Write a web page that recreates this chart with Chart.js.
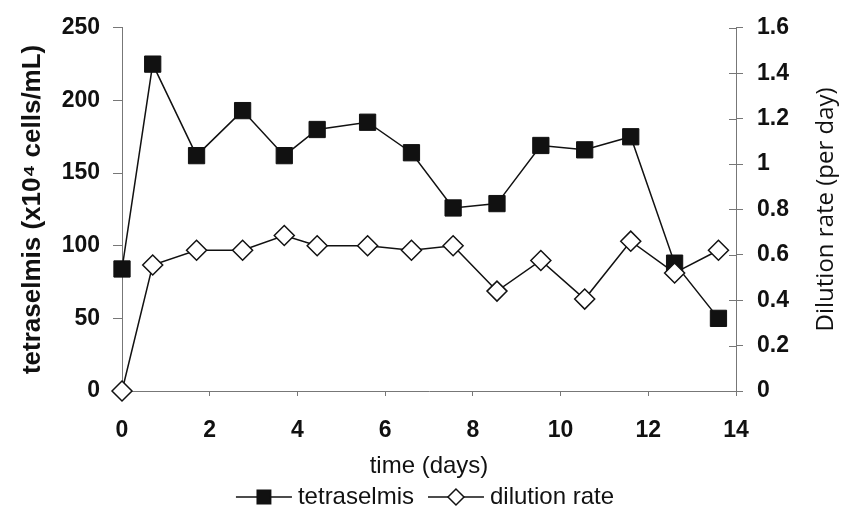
<!DOCTYPE html>
<html>
<head>
<meta charset="utf-8">
<script src="https://cdn.jsdelivr.net/npm/chart.js@4.4.0/dist/chart.umd.min.js"></script>
<style>
  html, body { margin: 0; padding: 0; background: #fff; }
  #wrap { width: 855px; height: 521px; position: relative; }
</style>
</head>
<body>
<div id="wrap"><canvas id="chart"></canvas></div>
<script>
// values
const days = [0, 0.7, 1.7, 2.75, 3.7, 4.45, 5.6, 6.6, 7.55, 8.55, 9.55, 10.55, 11.6, 12.6, 13.6];
const tetraselmis = [84, 225, 162, 193, 162, 180, 185, 164, 126, 129, 169, 166, 175, 88, 50];
const dilutionRate = [0, 0.555, 0.62, 0.62, 0.685, 0.64, 0.64, 0.62, 0.64, 0.44, 0.575, 0.405, 0.66, 0.52, 0.62];

const xTicks = [0, 2, 4, 6, 8, 10, 12, 14];
const leftTicks = [0, 50, 100, 150, 200, 250];
const rightTicks = [0, 0.2, 0.4, 0.6, 0.8, 1, 1.2, 1.4, 1.6];

const ink = '#111';
const axisGray = '#777';
const tickFont = { family: 'Liberation Sans', size: 23, weight: 'bold' };

const pairs = (ys) => days.map((d, i) => ({ x: d, y: ys[i] }));
const setTicks = (list) => (scale) => { scale.ticks = list.map(v => ({ value: v })); };

// right axis title reads bottom-to-top, right ticks cross the axis,
// and the legend has line-through markers
const extras = {
  id: 'extras',
  afterDraw(chart) {
    const ctx = chart.ctx;
    const area = chart.chartArea;
    const y2 = chart.scales.y2;

    ctx.save();
    ctx.strokeStyle = axisGray;
    ctx.lineWidth = 1;
    y2.ticks.forEach(t => {
      const py = Math.round(y2.getPixelForValue(t.value)) + 0.5;
      ctx.beginPath();
      ctx.moveTo(area.right - 7, py);
      ctx.lineTo(area.right, py);
      ctx.stroke();
    });
    ctx.restore();

    ctx.save();
    ctx.fillStyle = ink;
    ctx.font = '24px "Open Sans"';
    ctx.textAlign = 'center';
    ctx.textBaseline = 'middle';
    ctx.translate(826, (area.top + area.bottom) / 2);
    ctx.rotate(-Math.PI / 2);
    ctx.fillText('Dilution rate (per day)', 0, 0);
    ctx.restore();

    ctx.save();
    ctx.font = '24px "Liberation Sans"';
    ctx.textBaseline = 'middle';
    const y = 497;
    const lineLen = 56, gap = 6, itemGap = 14;
    const items = chart.data.datasets.slice().sort((a, b) => b.order - a.order);
    let total = 0;
    items.forEach((ds, i) => {
      total += lineLen + gap + ctx.measureText(ds.label).width + (i ? itemGap : 0);
    });
    let x = 425 - total / 2;
    items.forEach((ds, i) => {
      if (i) x += itemGap;
      ctx.strokeStyle = ink;
      ctx.lineWidth = 1.5;
      ctx.beginPath();
      ctx.moveTo(x, y);
      ctx.lineTo(x + lineLen, y);
      ctx.stroke();
      ctx.fillStyle = ds.pointBackgroundColor;
      ctx.strokeStyle = ink;
      Chart.helpers.drawPoint(ctx, {
        pointStyle: ds.pointStyle,
        radius: ds.pointStyle === 'rect' ? 9.5 : 8,
        borderWidth: 1.5
      }, x + lineLen / 2, y);
      x += lineLen + gap;
      ctx.fillStyle = ink;
      ctx.fillText(ds.label, x, y);
      x += ctx.measureText(ds.label).width;
    });
    ctx.restore();
  }
};

new Chart(document.getElementById('chart'), {
  type: 'line',
  data: {
    datasets: [{
      label: 'tetraselmis',
      data: pairs(tetraselmis),
      yAxisID: 'y',
      order: 1,
      borderColor: ink,
      borderWidth: 1.5,
      pointStyle: 'rect',
      pointRadius: 11.5,
      pointBackgroundColor: ink,
      pointBorderColor: ink,
      pointBorderWidth: 1,
      clip: false,
      tension: 0
    }, {
      label: 'dilution rate',
      data: pairs(dilutionRate),
      yAxisID: 'y2',
      order: 0,
      borderColor: ink,
      borderWidth: 1.5,
      pointStyle: 'rectRot',
      pointRadius: 10,
      pointBackgroundColor: '#fff',
      pointBorderColor: ink,
      pointBorderWidth: 1.5,
      clip: false,
      tension: 0
    }]
  },
  options: {
    animation: false,
    responsive: true,
    maintainAspectRatio: false,
    layout: { padding: { top: 23, bottom: 40, left: 0, right: 0 } },
    plugins: {
      legend: { display: false },
      tooltip: { enabled: false }
    },
    scales: {
      x: {
        type: 'linear',
        min: 0,
        max: 14,
        afterBuildTicks: setTicks(xTicks),
        afterFit: (s) => { s.height = 90; },
        grid: { drawOnChartArea: false, drawTicks: true, tickLength: 5, color: axisGray },
        border: { color: axisGray, width: 1 },
        ticks: { color: ink, font: tickFont, padding: 21, maxRotation: 0 },
        title: {
          display: true,
          text: 'time (days)',
          color: ink,
          font: { family: 'Liberation Sans', size: 24 },
          padding: { top: 0, bottom: 0 }
        }
      },
      y: {
        position: 'left',
        min: 0,
        max: 250,
        afterBuildTicks: setTicks(leftTicks),
        afterFit: (s) => { s.width = 122; },
        grid: { drawOnChartArea: false, drawTicks: true, tickLength: 9, color: axisGray },
        border: { color: axisGray, width: 1 },
        ticks: { color: ink, font: tickFont, padding: 13 },
        title: {
          display: true,
          text: 'tetraselmis (x10\u2074 cells/mL)',
          color: ink,
          font: { family: 'Liberation Sans', size: 26, weight: 'bold' },
          padding: { top: 17, bottom: 17 }
        }
      },
      y2: {
        position: 'right',
        min: 0,
        max: 1.6,
        afterBuildTicks: setTicks(rightTicks),
        afterFit: (s) => { s.width = 119; },
        grid: { drawOnChartArea: false, drawTicks: true, tickLength: 7, color: axisGray },
        border: { color: axisGray, width: 1 },
        ticks: { color: ink, font: tickFont, padding: 14, callback: (v) => String(v) }
      }
    }
  },
  plugins: [extras]
});
</script>
</body>
</html>
